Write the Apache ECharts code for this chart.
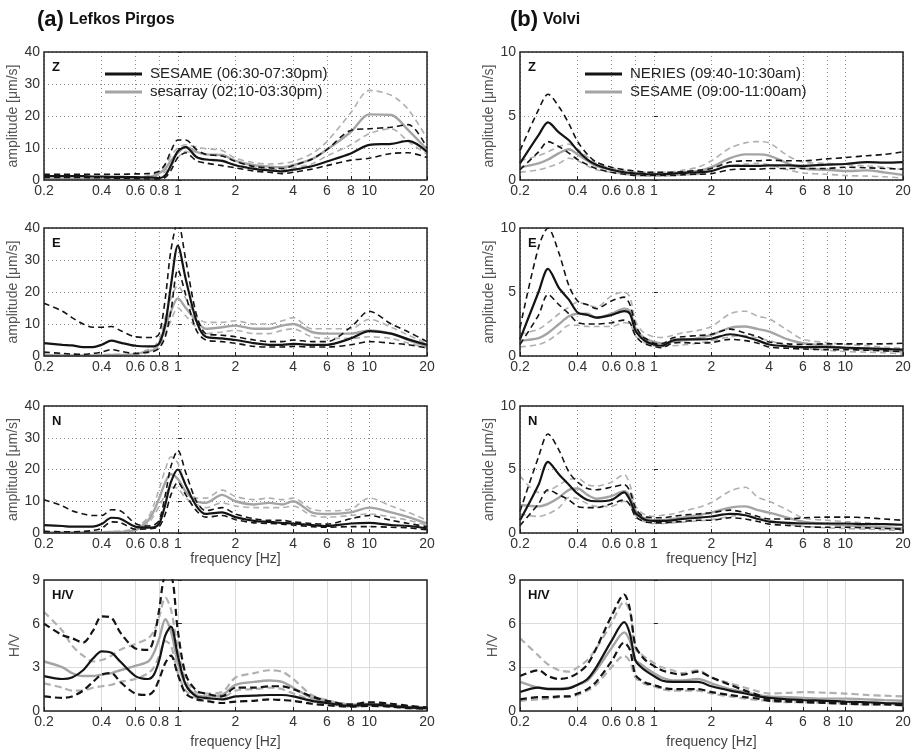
<!DOCTYPE html>
<html>
<head>
<meta charset="utf-8">
<script src="https://cdn.jsdelivr.net/npm/echarts@6/dist/echarts.min.js"></script>
<style>
  html, body { margin: 0; background: #fff; }
  #chart { width: 917px; height: 754px; }
</style>
</head>
<body>
<div id="chart"></div>
<script>
// frequency samples [Hz], shared by every curve
const freq = [0.2, 0.25, 0.28, 0.32, 0.36, 0.4, 0.45, 0.5, 0.6, 0.7, 0.75, 0.8, 0.86, 0.92, 1, 1.1, 1.25, 1.4, 1.7, 2, 2.5, 3, 3.5, 4, 5, 6, 8, 10, 13, 16, 20];
const xTicks = [0.2, 0.4, 0.6, 0.8, 1, 2, 4, 6, 8, 10, 20];
const ampTicksA = [0, 10, 20, 30, 40];
const ampTicksB = [0, 5, 10];
const hvTicks = [0, 3, 6, 9];

// (a) Lefkos Pirgos  -- b = SESAME (black), g = sesarray (gray); Mean, Hi/Lo = dashed
const lpZ_bMean = [1.3,1.2,1.2,1.2,1.1, 1.1,1.0,1.0,0.9,0.8, 0.7,0.6,1.5,4.5,9.0, 10.3,7.2,6.4,6.0,4.6, 3.5,3.0,2.7,3.2,4.3, 5.8,8.3,11.0,11.3,12.2, 8.8];
const lpZ_bHi   = [1.8,1.8,1.8,1.8,1.8, 1.8,1.8,1.8,1.9,2.0, 2.2,2.8,5.0,9.0,12.5, 12.5,9.5,8.0,7.5,5.8, 4.2,3.8,3.6,4.5,6.5, 9.5,15.5,16.0,16.5,17.3, 10.0];
const lpZ_bLo   = [0.8,0.8,0.8,0.8,0.7, 0.7,0.6,0.6,0.5,0.3, 0.2,0.2,0.8,3.0,7.0, 8.5,6.0,5.3,4.5,3.8, 2.8,2.4,2.0,2.4,3.4, 4.5,6.2,6.8,8.3,8.5, 7.0];
const lpZ_gMean = [0.4,0.3,0.3,0.3,0.3, 0.3,0.3,0.3,0.4,0.9, 1.4,2.2,3.5,6.0,8.5, 10.3,8.8,8.0,7.8,6.0, 4.6,4.2,4.0,4.6,6.5, 9.5,15.0,20.5,20.3,15.5, 9.5];
const lpZ_gHi   = [0.7,0.6,0.6,0.6,0.6, 0.6,0.6,0.6,0.7,1.3, 1.9,2.8,4.5,7.5,10.0, 11.0,10.3,9.8,9.2,6.8, 5.4,5.0,5.2,5.8,8.2, 12.0,21.0,28.0,26.5,22.0, 13.0];
const lpZ_gLo   = [0.1,0.1,0.1,0.1,0.1, 0.1,0.1,0.1,0.2,0.5, 0.9,1.6,2.6,4.5,7.0, 9.0,7.2,6.5,6.2,4.8, 3.8,3.4,3.3,3.8,5.0, 7.5,11.0,14.5,16.0,12.0, 8.0];

const lpE_bMean = [4.0,3.5,3.3,2.8,2.8, 3.5,4.8,4.2,3.2,3.0, 3.0,4.0,10.0,22.0,34.5, 24.0,11.0,6.0,5.5,5.0, 4.0,3.5,3.5,3.8,3.5, 3.5,5.5,7.8,7.0,5.2, 3.5];
const lpE_bHi   = [16.5,14.0,12.0,10.0,9.0, 9.0,9.2,8.0,6.0,5.8, 5.8,7.0,18.0,33.0,42.0, 30.0,13.0,7.0,6.5,6.0, 5.0,4.5,4.5,5.0,4.5, 4.5,9.0,14.0,10.0,7.5, 4.5];
const lpE_bLo   = [1.2,0.8,0.6,0.5,0.8, 1.2,2.0,1.5,0.8,1.2, 1.5,2.5,6.0,14.0,27.0, 19.0,8.0,5.0,4.5,4.0, 3.0,2.8,2.8,3.0,2.8, 2.8,3.5,4.5,4.0,3.5, 2.5];
const lpE_gMean = [0.3,0.2,0.2,0.2,0.2, 0.2,0.3,0.3,0.6,1.5, 2.0,4.0,9.0,14.0,18.0, 15.0,11.0,8.5,9.0,9.5, 8.5,8.5,9.5,10.0,7.5, 7.0,7.0,8.0,7.0,5.0, 3.0];
const lpE_gHi   = [0.5,0.4,0.4,0.4,0.4, 0.4,0.5,0.5,0.8,2.0, 3.0,5.0,12.0,18.0,22.0, 18.0,12.5,10.5,10.5,11.0, 10.0,10.0,11.0,12.0,8.5, 8.5,8.5,11.5,9.0,6.5, 4.0];
const lpE_gLo   = [0.1,0.1,0.1,0.1,0.1, 0.1,0.1,0.1,0.3,1.0, 1.5,3.0,7.0,11.0,15.0, 12.5,9.0,7.0,7.5,8.0, 7.0,7.0,8.0,8.5,6.0, 5.5,5.5,6.0,5.5,4.0, 2.5];

const lpN_bMean = [2.5,2.2,2.0,2.0,2.0, 2.8,4.8,4.5,2.0,1.7, 1.8,3.0,9.0,16.0,20.0, 15.0,8.5,6.0,6.5,5.0, 3.8,3.5,3.2,3.0,2.5, 2.2,3.0,3.2,2.5,2.2, 1.5];
const lpN_bHi   = [10.5,8.5,7.0,6.0,5.5, 5.5,7.3,7.0,3.0,2.2, 2.5,4.0,12.0,21.0,26.0, 19.0,10.0,7.0,8.0,6.0, 4.5,4.0,4.0,3.5,3.0, 2.8,4.5,5.5,4.0,3.0, 2.0];
const lpN_bLo   = [0.5,0.4,0.4,0.5,0.8, 1.5,3.5,3.3,1.2,1.3, 1.5,2.0,6.0,12.0,16.0, 12.0,7.0,5.0,5.5,4.2, 3.2,3.0,2.8,2.5,2.0, 1.8,2.0,2.0,1.8,1.6, 1.0];
const lpN_gMean = [0.2,0.2,0.2,0.2,0.2, 0.2,0.3,0.3,1.0,4.0, 7.0,11.0,16.0,18.5,17.0, 13.0,10.0,9.5,12.0,10.0, 9.0,9.5,9.0,10.0,6.5, 6.0,6.5,8.0,6.5,5.0, 3.0];
const lpN_gHi   = [0.4,0.4,0.4,0.4,0.4, 0.4,0.5,0.6,1.5,5.0, 9.0,14.0,20.0,24.0,22.0, 15.0,11.0,11.0,13.5,11.5, 10.5,11.0,10.5,11.0,7.5, 7.0,7.5,11.0,8.5,6.5, 4.0];
const lpN_gLo   = [0.1,0.1,0.1,0.1,0.1, 0.1,0.1,0.2,0.8,3.0, 5.5,8.5,12.0,14.5,14.0, 11.0,9.0,8.0,9.5,8.5, 8.0,8.0,8.0,8.5,5.5, 5.0,5.5,6.0,5.0,4.0, 2.5];

const lpH_bMean = [2.4,2.2,2.3,2.8,3.6, 4.1,4.0,3.4,2.4,2.2, 2.5,3.5,5.2,5.8,3.8, 1.8,1.0,0.9,0.8,1.0, 1.05,1.1,1.1,1.0,0.7, 0.55,0.35,0.45,0.35,0.25, 0.2];
const lpH_bHi   = [6.0,5.2,5.0,4.7,5.5, 6.5,6.4,5.4,4.3,4.2, 5.0,7.0,9.2,9.2,5.5, 2.5,1.4,1.2,1.0,1.6, 1.6,1.7,1.7,1.5,1.0, 0.7,0.45,0.6,0.5,0.35, 0.25];
const lpH_bLo   = [1.0,0.9,1.0,1.4,2.0, 2.5,2.6,2.0,1.2,1.1, 1.4,2.2,3.3,3.8,2.5, 1.2,0.8,0.7,0.55,0.65, 0.7,0.8,0.75,0.7,0.5, 0.4,0.3,0.35,0.3,0.2, 0.15];
const lpH_gMean = [3.4,3.0,2.6,2.4,2.4, 2.5,2.6,2.8,3.1,3.4, 4.0,5.0,6.3,5.5,3.3, 1.8,1.1,1.0,1.1,1.8, 2.0,2.1,2.0,1.6,0.9, 0.6,0.35,0.4,0.35,0.25, 0.2];
const lpH_gHi   = [6.8,5.5,4.5,3.8,3.4, 3.5,3.8,4.2,4.6,5.0, 5.5,6.5,7.8,7.0,4.3, 2.1,1.3,1.2,1.3,2.3, 2.6,2.8,2.7,2.2,1.1, 0.75,0.45,0.5,0.4,0.3, 0.25];
const lpH_gLo   = [1.9,1.6,1.4,1.4,1.6, 1.7,1.8,2.0,2.2,2.6, 3.0,3.8,4.8,4.5,2.6, 1.4,0.9,0.85,0.9,1.4, 1.5,1.6,1.5,1.2,0.75, 0.5,0.3,0.35,0.3,0.2, 0.15];

// (b) Volvi  -- b = NERIES (black), g = SESAME (gray)
const vlZ_bMean = [1.3,3.5,4.5,3.7,3.1, 2.3,1.6,1.2,0.8,0.6, 0.55,0.5,0.5,0.45,0.45, 0.45,0.5,0.55,0.6,0.7, 1.1,1.1,1.1,1.15,1.15, 1.1,1.2,1.25,1.4,1.35, 1.4];
const vlZ_bHi   = [2.3,5.5,6.7,5.7,4.4, 3.0,2.0,1.4,1.0,0.8, 0.75,0.7,0.65,0.6,0.6, 0.6,0.6,0.65,0.75,0.9, 1.4,1.5,1.5,1.55,1.5, 1.5,1.65,1.75,1.9,2.0, 2.2];
const vlZ_bLo   = [0.8,2.2,3.0,2.6,2.1, 1.6,1.2,0.9,0.6,0.45, 0.4,0.35,0.35,0.35,0.35, 0.35,0.35,0.4,0.45,0.5, 0.8,0.85,0.85,0.9,0.9, 0.9,0.9,1.0,0.95,0.9, 0.85];
const vlZ_gMean = [1.0,1.3,1.6,2.1,2.4, 2.0,1.5,1.1,0.8,0.6, 0.55,0.5,0.5,0.45,0.45, 0.45,0.5,0.6,0.7,1.0, 1.7,2.0,2.0,1.9,1.3, 0.9,0.8,0.7,0.75,0.6, 0.4];
const vlZ_gHi   = [1.5,1.9,2.2,2.6,2.8, 2.4,1.8,1.3,0.95,0.75, 0.7,0.65,0.62,0.6,0.6, 0.6,0.65,0.75,1.0,1.5, 2.5,2.9,3.0,2.9,1.9, 1.4,1.3,1.2,1.1,1.0, 0.8];
const vlZ_gLo   = [0.6,0.8,1.0,1.3,1.7, 1.5,1.1,0.8,0.6,0.45, 0.4,0.35,0.33,0.3,0.3, 0.3,0.35,0.4,0.45,0.7, 1.1,1.25,1.3,1.2,0.8, 0.55,0.45,0.35,0.3,0.25, 0.15];

const vlE_bMean = [1.3,5.0,6.8,5.3,4.4, 3.4,3.2,3.0,3.2,3.5, 3.3,2.0,1.4,1.1,0.9, 0.8,1.2,1.3,1.3,1.35, 1.7,1.5,1.2,0.9,0.75, 0.7,0.7,0.65,0.6,0.55, 0.5];
const vlE_bHi   = [2.2,8.5,10.0,8.0,5.5, 4.3,4.0,3.7,4.3,4.6, 4.0,2.5,1.6,1.3,1.0, 0.95,1.4,1.5,1.6,1.7, 2.1,1.8,1.5,1.1,0.95, 0.9,0.95,0.95,0.95,0.95, 1.0];
const vlE_bLo   = [0.9,3.2,4.8,4.0,3.3, 2.6,2.5,2.5,2.6,2.8, 2.6,1.6,1.1,0.9,0.75, 0.65,1.0,1.05,1.0,1.05, 1.3,1.2,1.0,0.7,0.6, 0.55,0.5,0.5,0.45,0.4, 0.35];
const vlE_gMean = [1.2,1.4,1.8,2.5,3.1, 3.3,3.3,3.0,3.3,3.7, 3.5,2.2,1.6,1.3,1.1, 1.0,1.1,1.2,1.4,1.65, 2.2,2.3,2.1,1.9,1.3, 1.0,0.8,0.6,0.5,0.45, 0.35];
const vlE_gHi   = [1.7,2.1,2.6,3.3,3.8, 4.2,4.0,3.8,4.7,5.0, 4.6,2.8,2.0,1.7,1.5, 1.45,1.6,1.8,2.0,2.3, 3.3,3.5,3.1,2.9,2.0, 1.3,1.05,0.9,0.8,0.7, 0.6];
const vlE_gLo   = [0.7,0.9,1.2,1.8,2.4, 2.4,2.3,2.3,2.3,2.6, 2.5,1.6,1.2,0.95,0.8, 0.75,0.8,0.85,1.0,1.2, 1.5,1.6,1.4,1.2,0.8, 0.6,0.45,0.35,0.3,0.25, 0.15];

const vlN_bMean = [1.0,3.8,5.6,4.6,3.8, 3.1,2.6,2.5,2.6,3.2, 2.6,1.6,1.2,1.0,0.95, 0.95,1.0,1.1,1.2,1.3, 1.5,1.4,1.1,0.9,0.8, 0.75,0.75,0.75,0.7,0.7, 0.65];
const vlN_bHi   = [1.7,6.0,7.8,6.5,4.8, 4.0,3.5,3.4,3.6,3.8, 3.3,2.0,1.4,1.25,1.2, 1.2,1.3,1.4,1.5,1.6, 1.8,1.6,1.3,1.1,1.1, 1.2,1.25,1.25,1.2,1.1, 1.0];
const vlN_bLo   = [0.6,2.3,3.4,3.0,2.6, 2.1,2.0,2.0,2.3,2.6, 2.2,1.3,1.0,0.85,0.8, 0.8,0.85,0.9,1.0,1.0, 1.2,1.1,0.9,0.7,0.6, 0.5,0.45,0.45,0.4,0.35, 0.3];
const vlN_gMean = [2.2,2.1,2.3,2.8,3.4, 3.5,3.0,2.7,2.9,3.3, 2.9,1.8,1.3,1.1,1.0, 1.0,1.1,1.2,1.4,1.6, 2.0,2.1,1.8,1.6,1.2, 0.9,0.7,0.6,0.5,0.45, 0.35];
const vlN_gHi   = [4.5,3.2,3.3,3.8,4.2, 4.3,3.8,3.7,4.0,4.6, 3.8,2.2,1.6,1.4,1.3, 1.4,1.5,1.7,2.0,2.4, 3.3,3.6,2.8,2.5,1.8, 1.2,1.0,0.9,0.8,0.7, 0.6];
const vlN_gLo   = [1.5,1.3,1.5,2.0,2.8, 2.7,2.3,2.1,2.1,2.5, 2.2,1.4,1.0,0.85,0.75, 0.75,0.8,0.85,0.95,1.05, 1.3,1.4,1.2,1.0,0.7, 0.55,0.4,0.35,0.3,0.25, 0.2];

const vlH_bMean = [1.3,1.6,1.5,1.5,1.55, 1.8,2.2,3.0,4.8,6.1, 5.3,3.5,3.0,2.7,2.4, 2.1,2.0,2.0,2.0,1.7, 1.4,1.2,1.0,0.9,0.8, 0.75,0.7,0.65,0.6,0.55, 0.5];
const vlH_bHi   = [2.4,2.8,2.4,2.2,2.3, 2.6,3.2,4.3,6.5,8.0, 7.0,4.5,3.8,3.4,3.1, 2.8,2.6,2.5,2.7,2.3, 1.8,1.4,1.1,0.8,0.7, 0.65,0.6,0.55,0.5,0.5, 0.4];
const vlH_bLo   = [0.8,0.95,0.95,1.0,1.0, 1.2,1.5,2.0,3.4,4.7, 4.2,2.5,2.1,1.9,1.8, 1.6,1.5,1.5,1.5,1.3, 1.1,0.95,0.85,0.7,0.65, 0.6,0.55,0.5,0.45,0.45, 0.4];
const vlH_gMean = [2.0,1.6,1.55,1.55,1.6, 1.8,2.1,2.8,4.3,5.4, 4.8,3.5,3.2,2.9,2.6, 2.3,2.1,2.1,2.2,1.9, 1.5,1.3,1.1,1.0,0.95, 0.9,0.85,0.85,0.8,0.75, 0.7];
const vlH_gHi   = [5.0,3.8,3.2,2.8,2.7, 3.0,3.5,4.3,6.0,7.5, 6.8,4.3,3.9,3.6,3.3, 3.0,2.8,2.6,2.8,2.3, 1.9,1.6,1.35,1.2,1.25, 1.3,1.25,1.2,1.1,1.05, 1.0];
const vlH_gLo   = [0.7,0.8,0.85,0.95,1.0, 1.1,1.4,1.8,3.0,3.8, 3.4,2.3,2.0,1.8,1.7, 1.5,1.4,1.4,1.4,1.2, 1.0,0.85,0.75,0.7,0.6, 0.6,0.55,0.5,0.45,0.45, 0.4];

const legendA = ['SESAME (06:30-07:30pm)', 'sesarray (02:10-03:30pm)'];
const legendB = ['NERIES (09:40-10:30am)', 'SESAME (09:00-11:00am)'];

const panels = [
  { col: 0, row: 0, tag: 'Z', yTicks: ampTicksA, names: legendA, b: [lpZ_bMean, lpZ_bHi, lpZ_bLo], g: [lpZ_gMean, lpZ_gHi, lpZ_gLo] },
  { col: 0, row: 1, tag: 'E', yTicks: ampTicksA, names: legendA, b: [lpE_bMean, lpE_bHi, lpE_bLo], g: [lpE_gMean, lpE_gHi, lpE_gLo] },
  { col: 0, row: 2, tag: 'N', yTicks: ampTicksA, names: legendA, b: [lpN_bMean, lpN_bHi, lpN_bLo], g: [lpN_gMean, lpN_gHi, lpN_gLo] },
  { col: 0, row: 3, tag: 'H/V', yTicks: hvTicks, names: legendA, b: [lpH_bMean, lpH_bHi, lpH_bLo], g: [lpH_gMean, lpH_gHi, lpH_gLo] },
  { col: 1, row: 0, tag: 'Z', yTicks: ampTicksB, names: legendB, b: [vlZ_bMean, vlZ_bHi, vlZ_bLo], g: [vlZ_gMean, vlZ_gHi, vlZ_gLo] },
  { col: 1, row: 1, tag: 'E', yTicks: ampTicksB, names: legendB, b: [vlE_bMean, vlE_bHi, vlE_bLo], g: [vlE_gMean, vlE_gHi, vlE_gLo] },
  { col: 1, row: 2, tag: 'N', yTicks: ampTicksB, names: legendB, b: [vlN_bMean, vlN_bHi, vlN_bLo], g: [vlN_gMean, vlN_gHi, vlN_gLo] },
  { col: 1, row: 3, tag: 'H/V', yTicks: hvTicks, names: legendB, b: [vlH_bMean, vlH_bHi, vlH_bLo], g: [vlH_gMean, vlH_gHi, vlH_gLo] }
];

// layout
const FONT = 'Liberation Sans, Arial, Helvetica, sans-serif';
const colLeft = [44, 520];
const plotW = 383;
const rowTop = [52, 228, 406, 580];
const rowH = [128, 128, 127, 131];
const BLACK = '#141414';
const GRAY = '#a4a4a4';
const GRAY_D = '#b0b0b0';

const lg = v => Math.log10(v);
const pts = arr => freq.map((f, i) => [lg(f), arr[i]]);
const fmt = v => String(parseFloat(Math.pow(10, v).toFixed(2)));

const grids = [], xAxes = [], yAxes = [], series = [], graphics = [];

panels.forEach((p, i) => {
  const isHV = p.row === 3;
  const left = colLeft[p.col], top = rowTop[p.row], h = rowH[p.row];
  grids.push({ left: left, top: top, width: plotW, height: h });

  const gridLine = isHV
    ? { show: true, lineStyle: { color: '#dcdcdc', width: 1, type: 'solid' } }
    : { show: true, lineStyle: { color: '#8a8a8a', width: 1, type: [1, 3] } };

  xAxes.push({
    gridIndex: i, type: 'value', min: lg(0.2), max: lg(20),
    axisLine: { show: false },
    axisTick: { show: true, inside: true, length: 4, customValues: xTicks.map(lg), lineStyle: { color: '#222' } },
    axisLabel: { customValues: xTicks.map(lg), formatter: fmt, color: '#333', fontSize: 14, fontFamily: FONT, margin: 4 },
    splitLine: gridLine,
    name: p.row >= 2 ? 'frequency [Hz]' : '',
    nameLocation: 'middle', nameGap: isHV ? 24 : 19,
    nameTextStyle: { color: '#444', fontSize: 14, fontFamily: FONT }
  });

  const yt = p.yTicks;
  yAxes.push({
    gridIndex: i, type: 'value', min: yt[0], max: yt[yt.length - 1], interval: yt[1] - yt[0],
    axisLine: { show: false },
    axisTick: { show: true, inside: true, length: 4, lineStyle: { color: '#222' } },
    axisLabel: { color: '#333', fontSize: 14, fontFamily: FONT, margin: 4 },
    splitLine: gridLine,
    name: isHV ? 'H/V' : 'amplitude [μm/s]',
    nameLocation: 'middle', nameGap: p.col === 0 ? 22 : 20,
    nameTextStyle: { color: '#555', fontSize: 14, fontFamily: FONT }
  });

  const dashW = isHV ? 2.2 : 1.6;
  const dash = isHV ? [7, 4] : [6, 4];
  const line = (name, arr, color, width, type, z) => ({
    name: name, type: 'line', xAxisIndex: i, yAxisIndex: i, data: pts(arr),
    symbol: 'none', smooth: 0.3, silent: true, z: z,
    itemStyle: { color: color },
    lineStyle: { color: color, width: width, type: type }
  });
  series.push(line('g+' + i, p.g[1], GRAY_D, dashW, dash, 2));
  series.push(line('g-' + i, p.g[2], GRAY_D, dashW, dash, 2));
  series.push(line(p.names[1], p.g[0], GRAY, 2.4, 'solid', 3));
  series.push(line('b+' + i, p.b[1], BLACK, dashW, dash, 4));
  series.push(line('b-' + i, p.b[2], BLACK, dashW, dash, 4));
  series.push(line(p.names[0], p.b[0], BLACK, 2.2, 'solid', 5));

  // box around the plot
  graphics.push({
    type: 'rect', z: 100, silent: true,
    shape: { x: left, y: top, width: plotW, height: h },
    style: { fill: 'none', stroke: '#222', lineWidth: 1.5 }
  });
  graphics.push({
    type: 'text', z: 100, silent: true, left: left + 8, top: top + 9,
    style: { text: p.tag, font: 'bold 13px ' + FONT, fill: '#111' }
  });
});

const legendCfg = (names, left) => ({
  data: names.map(n => ({ name: n, icon: 'rect' })),
  orient: 'vertical', left: left, top: 61,
  itemWidth: 37, itemHeight: 3, itemGap: 2, selectedMode: false,
  textStyle: { fontSize: 15, color: '#222', fontFamily: FONT, padding: [0, 0, 0, 3], lineHeight: 16 }
});

const option = {
  animation: false,
  backgroundColor: '#fff',
  title: [
    { text: '{a|(a)} {b|Lefkos Pirgos}', left: 32, top: 4,
      textStyle: { rich: { a: { fontSize: 22, fontWeight: 'bold', color: '#111', fontFamily: FONT }, b: { fontSize: 16, fontWeight: 'bold', color: '#111', fontFamily: FONT } } } },
    { text: '{a|(b)} {b|Volvi}', left: 505, top: 4,
      textStyle: { rich: { a: { fontSize: 22, fontWeight: 'bold', color: '#111', fontFamily: FONT }, b: { fontSize: 16, fontWeight: 'bold', color: '#111', fontFamily: FONT } } } }
  ],
  legend: [legendCfg(legendA, 100), legendCfg(legendB, 580)],
  grid: grids,
  xAxis: xAxes,
  yAxis: yAxes,
  series: series,
  graphic: graphics
};

const chart = echarts.init(document.getElementById('chart'));
chart.setOption(option);
</script>
</body>
</html>
